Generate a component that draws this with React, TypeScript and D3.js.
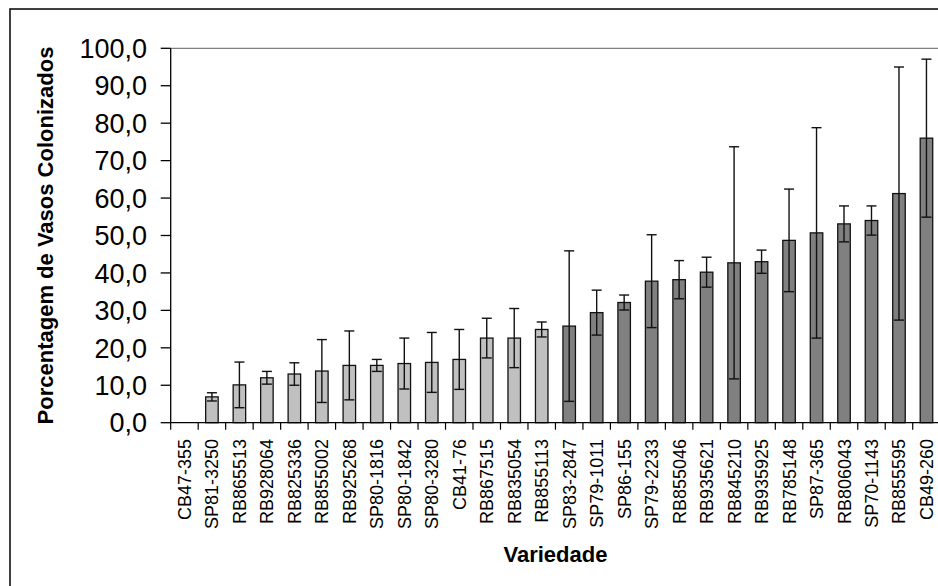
import * as d3 from "d3";

const categories = [
  "CB47-355", "SP81-3250", "RB865513", "RB928064", "RB825336", "RB855002",
  "RB925268", "SP80-1816", "SP80-1842", "SP80-3280", "CB41-76", "RB867515",
  "RB835054", "RB855113", "SP83-2847", "SP79-1011", "SP86-155", "SP79-2233",
  "RB855046", "RB935621", "RB845210", "RB935925", "RB785148", "SP87-365",
  "RB806043", "SP70-1143", "RB855595", "CB49-260",
];

// mean % of colonized vessels
const means = [
  0, 6.9, 10.1, 12.0, 13.0, 13.8, 15.3, 15.3, 15.8, 16.1, 16.9, 22.6, 22.6, 24.9,
  25.8, 29.4, 32.1, 37.8, 38.2, 40.2, 42.7, 43.0, 48.7, 50.7, 53.1, 54.0, 61.2, 76.0,
];

// error bar half-width
const errors = [
  0, 1.1, 6.1, 1.7, 3.0, 8.4, 9.2, 1.6, 6.8, 8.0, 8.0, 5.3, 7.9, 2.0,
  20.1, 6.0, 2.0, 12.4, 5.1, 4.0, 31.0, 3.1, 13.7, 28.1, 4.8, 3.9, 33.8, 21.1,
];

// group of each variety (light = first group, dark = second group)
const groups = [
  "a", "a", "a", "a", "a", "a", "a", "a", "a", "a", "a", "a", "a", "a",
  "b", "b", "b", "b", "b", "b", "b", "b", "b", "b", "b", "b", "b", "b",
];

const yTicks = [0, 10, 20, 30, 40, 50, 60, 70, 80, 90, 100];

const font = "Arial, 'Liberation Sans', sans-serif";
const width = 938;
const height = 586;

const locale = d3.formatLocale({ decimal: ",", thousands: ".", grouping: [3], currency: ["R$", ""] });
const fmt = locale.format(".1f");

export default function App() {
  const left = 170.7, right = 940.2, top = 48.3, bottom = 422.7;

  const x = d3.scaleBand<string>()
    .domain(categories)
    .range([left, right])
    .paddingInner(0.545)
    .paddingOuter(0.2725);

  const y = d3.scaleLinear().domain([0, 100]).range([bottom, top]);

  const color = d3.scaleOrdinal<string, string>().domain(["a", "b"]).range(["#c0c0c0", "#808080"]);

  const step = x.step();
  const bw = x.bandwidth();
  const capW = 10;

  return (
    <svg width={width} height={height} style={{ position: "absolute", left: 0, top: 0 }}>
      <rect x={0} y={0} width={width} height={height} fill="#fff" />
      {/* outer chart border, cut by the picture */}
      <rect x={10} y={9} width={width + 20} height={height + 20} fill="none" stroke="#000" strokeWidth={1.5} />

      {/* plot area top edge */}
      <line x1={left} x2={width + 5} y1={top} y2={top} stroke="#808080" strokeWidth={1.2} />

      {/* bars */}
      {categories.map((c, i) => (
        <rect
          key={c}
          x={x(c)}
          y={y(means[i])}
          width={bw}
          height={y(0) - y(means[i])}
          fill={color(groups[i])}
          stroke="#111"
          strokeWidth={1.3}
        />
      ))}

      {/* error bars */}
      {categories.map((c, i) => {
        if (errors[i] === 0) return null;
        const cx = (x(c) ?? 0) + bw / 2;
        const hi = y(means[i] + errors[i]);
        const lo = y(Math.max(0, means[i] - errors[i]));
        return (
          <g key={"e" + c} stroke="#111" strokeWidth={1.4}>
            <line x1={cx} x2={cx} y1={hi} y2={lo} />
            <line x1={cx - capW / 2} x2={cx + capW / 2} y1={hi} y2={hi} />
            <line x1={cx - capW / 2} x2={cx + capW / 2} y1={lo} y2={lo} />
          </g>
        );
      })}

      {/* y axis */}
      <line x1={left} x2={left} y1={top} y2={bottom} stroke="#000" strokeWidth={1.3} />
      {yTicks.map((t) => (
        <g key={"y" + t}>
          <line x1={left - 10} x2={left} y1={y(t)} y2={y(t)} stroke="#000" strokeWidth={1.3} />
          <text
            x={147}
            y={y(t)}
            dy="0.36em"
            textAnchor="end"
            fontFamily={font}
            fontSize={27}
            fill="#000"
          >
            {fmt(t)}
          </text>
        </g>
      ))}

      {/* x axis */}
      <line x1={left} x2={width + 5} y1={bottom} y2={bottom} stroke="#000" strokeWidth={1.3} />
      {d3.range(categories.length + 1).map((i) => (
        <line
          key={"xt" + i}
          x1={left + i * step}
          x2={left + i * step}
          y1={bottom}
          y2={bottom + 7}
          stroke="#000"
          strokeWidth={1.2}
        />
      ))}
      {categories.map((c) => {
        const cx = (x(c) ?? 0) + bw / 2;
        return (
          <text
            key={"xl" + c}
            transform={`translate(${cx + 6.5},439) rotate(-90)`}
            textAnchor="end"
            fontFamily={font}
            fontSize={18}
            fill="#000"
          >
            {c}
          </text>
        );
      })}

      {/* axis titles */}
      <text
        transform={`translate(53,${(top + bottom) / 2}) rotate(-90)`}
        textAnchor="middle"
        fontFamily={font}
        fontWeight="bold"
        fontSize={22}
        fill="#000"
      >
        Porcentagem de Vasos Colonizados
      </text>
      <text
        x={(left + right) / 2}
        y={561.5}
        textAnchor="middle"
        fontFamily={font}
        fontWeight="bold"
        fontSize={22}
        fill="#000"
      >
        Variedade
      </text>
    </svg>
  );
}
